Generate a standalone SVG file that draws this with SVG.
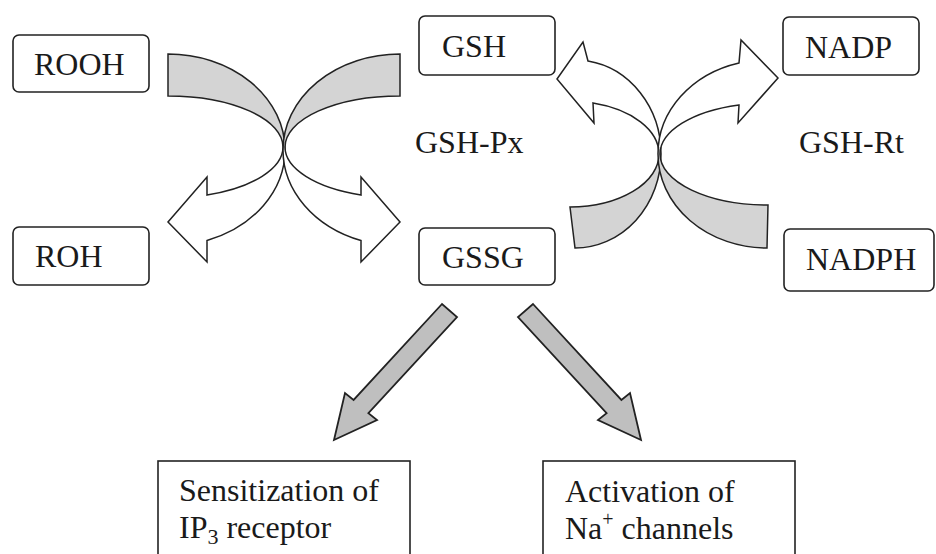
<svg xmlns="http://www.w3.org/2000/svg" width="936" height="554" viewBox="0 0 936 554">
  <defs>
    <style>
      .box { fill: #ffffff; stroke: #222222; stroke-width: 1.6; }
      .lbl { font-family: "Liberation Serif", "Times New Roman", serif; font-size: 32px; fill: #1a1a1a; }
      .curve { stroke: #222222; stroke-width: 1.5; stroke-linejoin: miter; }
      .straight { fill: #bfbfbf; stroke: #222222; stroke-width: 1.8; stroke-linejoin: miter; }
    </style>
    <linearGradient id="gTop" gradientUnits="userSpaceOnUse" x1="0" y1="0" x2="0" y2="554">
      <stop offset="0" stop-color="#d4d4d4"/>
      <stop offset="0.2708" stop-color="#d4d4d4"/>
      <stop offset="0.2708" stop-color="#ffffff"/>
      <stop offset="1" stop-color="#ffffff"/>
    </linearGradient>
    <linearGradient id="gBottom" gradientUnits="userSpaceOnUse" x1="0" y1="0" x2="0" y2="554">
      <stop offset="0" stop-color="#ffffff"/>
      <stop offset="0.2653" stop-color="#ffffff"/>
      <stop offset="0.2653" stop-color="#d4d4d4"/>
      <stop offset="1" stop-color="#d4d4d4"/>
    </linearGradient>
  </defs>
  <rect width="936" height="554" fill="#ffffff"/>

  <g id="connectors">
    <!-- GSH-Px crossing arrows -->
    <path class="curve" fill="url(#gTop)" d="M168,54 A117,96 0 0 1 285,150 A117,96 0 0 1 207,240.5 L207,262 L168,222 L207,177 L207,195 A115,51 0 0 0 283,147 A115,51 0 0 0 168,96 Z"/>
    <path class="curve" fill="url(#gTop)" d="M400,54 A117,96 0 0 0 283,150 A117,96 0 0 0 361,240.5 L361,262 L400,222 L361,177 L361,195 A115,51 0 0 1 285,147 A115,51 0 0 1 400,96 Z"/>
    <!-- GSH-Rt crossing arrows -->
    <path class="curve" fill="url(#gBottom)" d="M575,248 A86,94 0 0 0 661,154 A86,94 0 0 0 588,61 L583,42 L557,79 L594,123 L593,103 A89,53 0 0 1 659,154 A89,53 0 0 1 570,207 Z"/>
    <path class="curve" fill="url(#gBottom)" d="M767,248 A109,94 0 0 1 658,154 A109,94 0 0 1 739,63 L741,40 L778,78 L738,123 L739,105 A108,51 0 0 0 660,154 A108,51 0 0 0 768,205 Z"/>
    <!-- GSSG effects -->
    <polygon class="straight" points="442,304 353.6,399.9 345,393 334,440 377,420 368.4,413.1 457,317"/>
    <polygon class="straight" points="533,304 621.4,399.9 630,393 641,440 598,420 606.6,413.1 518,317"/>
  </g>

  <g id="node-ROOH">
    <rect class="box" x="13" y="35" width="136" height="57" rx="6"/>
    <text class="lbl" x="34" y="75">ROOH</text>
  </g>
  <g id="node-ROH">
    <rect class="box" x="13" y="227" width="136" height="58" rx="6"/>
    <text class="lbl" x="35" y="267">ROH</text>
  </g>
  <g id="node-GSH">
    <rect class="box" x="419" y="16" width="136" height="59" rx="6"/>
    <text class="lbl" x="442" y="57">GSH</text>
  </g>
  <g id="node-GSSG">
    <rect class="box" x="419" y="228" width="136" height="57" rx="6"/>
    <text class="lbl" x="442" y="268">GSSG</text>
  </g>
  <g id="node-NADP">
    <rect class="box" x="783" y="17" width="136" height="58" rx="6"/>
    <text class="lbl" x="805" y="58">NADP</text>
  </g>
  <g id="node-NADPH">
    <rect class="box" x="784" y="229" width="150" height="62" rx="6"/>
    <text class="lbl" x="806" y="270">NADPH</text>
  </g>
  <g id="label-GSH-Px">
    <text class="lbl" x="415" y="153">GSH-Px</text>
  </g>
  <g id="label-GSH-Rt">
    <text class="lbl" x="799" y="153">GSH-Rt</text>
  </g>
  <g id="node-IP3">
    <rect class="box" x="158" y="461" width="252" height="110"/>
    <text class="lbl" x="179" y="501">Sensitization of</text>
    <text class="lbl" x="179" y="538">IP<tspan font-size="22" dy="6">3</tspan><tspan dy="-6"> receptor</tspan></text>
  </g>
  <g id="node-Na">
    <rect class="box" x="543" y="461" width="252" height="110"/>
    <text class="lbl" x="565" y="502">Activation of</text>
    <text class="lbl" x="565" y="539">Na<tspan font-size="20" dy="-13">+</tspan><tspan dy="13"> channels</tspan></text>
  </g>
</svg>
